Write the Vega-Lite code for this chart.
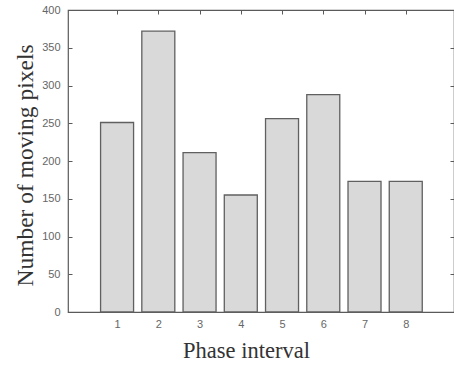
{
  "$schema": "https://vega.github.io/schema/vega-lite/v6.json",
  "width": 386,
  "height": 302,
  "autosize": {"type": "none"},
  "padding": {"left": 68, "top": 10, "right": 0, "bottom": 55},
  "background": "white",
  "config": {
    "view": {"stroke": "#5a5a5a", "strokeWidth": 1.2},
    "axis": {
      "domain": false,
      "grid": false,
      "tickColor": "#5a5a5a",
      "tickSize": -4,
      "labelFont": "Liberation Sans",
      "labelFontSize": 11,
      "labelColor": "#666666",
      "titleFont": "Liberation Serif",
      "titleFontWeight": "normal",
      "titleColor": "#333333"
    }
  },
  "data": {
    "values": [
      {"interval": 1, "pixels": 251},
      {"interval": 2, "pixels": 372},
      {"interval": 3, "pixels": 211},
      {"interval": 4, "pixels": 155},
      {"interval": 5, "pixels": 256},
      {"interval": 6, "pixels": 288},
      {"interval": 7, "pixels": 173},
      {"interval": 8, "pixels": 173}
    ]
  },
  "layer": [
    {
      "mark": {"type": "bar", "fill": "#d9d9d9", "stroke": "#606060", "strokeWidth": 1.3, "width": 33},
      "encoding": {
        "x": {
          "field": "interval",
          "type": "quantitative",
          "scale": {"domain": [-0.19, 9.17], "nice": false, "zero": false, "padding": 0},
          "axis": {
            "values": [1, 2, 3, 4, 5, 6, 7, 8],
            "title": "Phase interval",
            "labelPadding": 10,
            "titleFontSize": 22.5,
            "titleX": 178,
            "titleY": 45,
            "titleAlign": "center",
            "titleBaseline": "alphabetic"
          }
        },
        "y": {
          "field": "pixels",
          "type": "quantitative",
          "scale": {"domain": [0, 400], "nice": false, "padding": 0},
          "axis": {
            "values": [0, 50, 100, 150, 200, 250, 300, 350, 400],
            "title": "Number of moving pixels",
            "labelPadding": 12,
            "titleFontSize": 23.5,
            "titleX": -36,
            "titleY": 155,
            "titleAngle": -90,
            "titleAlign": "center",
            "titleBaseline": "alphabetic"
          }
        }
      }
    },
    {
      "mark": {"type": "point", "opacity": 0},
      "encoding": {
        "x": {
          "field": "interval",
          "type": "quantitative",
          "axis": {"orient": "top", "values": [1, 2, 3, 4, 5, 6, 7, 8], "labels": false, "title": null}
        },
        "y": {
          "field": "pixels",
          "type": "quantitative",
          "axis": {"orient": "right", "values": [0, 50, 100, 150, 200, 250, 300, 350, 400], "labels": false, "title": null}
        }
      }
    }
  ],
  "resolve": {"axis": {"x": "independent", "y": "independent"}}
}
